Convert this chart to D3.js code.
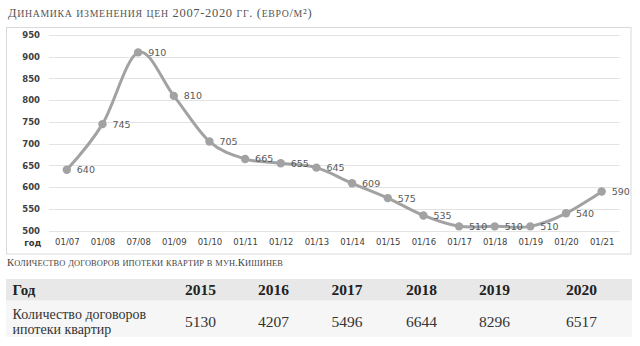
<!DOCTYPE html>
<html>
<head>
<meta charset="utf-8">
<script src="https://cdn.jsdelivr.net/npm/d3@7/dist/d3.min.js"></script>
<style>
  html, body { margin: 0; padding: 0; background: #fff; }
  svg { display: block; }
  .serif { font-family: "Liberation Serif", "DejaVu Serif", serif; }
  .ax { font-family: "DejaVu Sans", sans-serif; }
</style>
</head>
<body>
<svg id="chart" width="640" height="346"></svg>
<script>
// Price dynamics, EUR per m²
const periods = ["01/07", "01/08", "07/08", "01/09", "01/10", "01/11", "01/12", "01/13",
                 "01/14", "01/15", "01/16", "01/17", "01/18", "01/19", "01/20", "01/21"];
const prices = [640, 745, 910, 810, 705, 665, 655, 645, 609, 575, 535, 510, 510, 510, 540, 590];
const yTicks = [500, 550, 600, 650, 700, 750, 800, 850, 900, 950];

// Mortgage contracts in Chișinău
const years = ["2015", "2016", "2017", "2018", "2019", "2020"];
const contracts = [5130, 4207, 5496, 6644, 8296, 6517];

const titleText = "Динамика изменения цен 2007-2020 гг. (евро/м²)";
const tableTitle = "Количество договоров ипотеки квартир в мун.Кишинев";
const headLabel = "Год";
const rowLabel = ["Количество договоров", "ипотеки квартир"];
const axisLabel = "год";

const svg = d3.select("#chart");

// Small-caps text: lowercase letters set as smaller capitals,
// then tracked out to the given width
function smallCaps(x, yPos, text, big, small, width, color) {
  const t = svg.append("text").attr("class", "serif")
    .attr("x", x).attr("y", yPos).attr("fill", color);
  for (const ch of text) {
    const lower = ch !== ch.toUpperCase();
    t.append("tspan")
      .attr("font-size", lower ? small : big)
      .text(lower ? ch.toUpperCase() : ch);
  }
  const n = [...text].length;
  const w = t.node().getComputedTextLength();
  t.attr("letter-spacing", Math.max(0, (width - w) / n));
  return t;
}

// Title
smallCaps(8, 16.5, titleText, 12.5, 9.8, 304, "#555");

// Chart frame
svg.append("rect")
  .attr("x", 6.5).attr("y", 27.5).attr("width", 624.5).attr("height", 226.5)
  .attr("fill", "#fff").attr("stroke", "#d9d9d9").attr("stroke-width", 1);

const plot = { left: 49, right: 619.5, top: 35, bottom: 230.7 };

const x = d3.scalePoint().domain(periods).range([plot.left, plot.right]).padding(0.5);
const y = d3.scaleLinear().domain([500, 950]).range([plot.bottom, plot.top]);

// Gridlines
svg.append("g").selectAll("line").data(yTicks).join("line")
  .attr("x1", plot.left).attr("x2", plot.right)
  .attr("y1", d => Math.round(y(d)) + 0.5).attr("y2", d => Math.round(y(d)) + 0.5)
  .attr("stroke", "#e3e3e3").attr("stroke-width", 1);

// Y axis
const yAxis = svg.append("g").attr("class", "ax")
  .attr("transform", `translate(${plot.left - 6},0)`)
  .call(d3.axisLeft(y).tickValues(yTicks).tickSize(0).tickPadding(3));
yAxis.select(".domain").remove();
yAxis.selectAll("text").attr("font-size", 8.5).attr("font-weight", "bold")
  .attr("fill", "#404040").attr("font-family", "DejaVu Sans, sans-serif");

// X axis
const xAxis = svg.append("g").attr("class", "ax")
  .attr("transform", `translate(0,${plot.bottom + 6})`)
  .call(d3.axisBottom(x).tickSize(0).tickPadding(2));
xAxis.select(".domain").remove();
xAxis.selectAll("text").attr("font-size", 8.5)
  .attr("fill", "#404040").attr("font-family", "DejaVu Sans, sans-serif");

svg.append("text").attr("class", "ax")
  .attr("x", 41.5).attr("y", 245.5).attr("text-anchor", "end")
  .attr("font-size", 8.5).attr("font-weight", "bold").attr("fill", "#333")
  .text(axisLabel);

// Price line
const pts = periods.map((p, i) => ({ p, v: prices[i] }));
const line = d3.line().x(d => x(d.p)).y(d => y(d.v)).curve(d3.curveCatmullRom.alpha(0));
svg.append("path").datum(pts)
  .attr("d", line).attr("fill", "none")
  .attr("stroke", "#a2a2a2").attr("stroke-width", 3).attr("stroke-linejoin", "round");

svg.append("g").selectAll("circle").data(pts).join("circle")
  .attr("cx", d => x(d.p)).attr("cy", d => y(d.v)).attr("r", 4.2)
  .attr("fill", "#a2a2a2");

svg.append("g").selectAll("text").data(pts).join("text")
  .attr("class", "ax")
  .attr("x", d => x(d.p) + 10).attr("y", d => y(d.v) + 3.5)
  .attr("font-size", 9.5).attr("fill", "#595959")
  .text(d => d.v);

// Table
smallCaps(7, 266, tableTitle, 10.6, 8.4, 276, "#444");

const tbl = { left: 6, right: 632, headTop: 279, headBottom: 300.7, rowBottom: 336.7 };
const colX = [185, 258, 331.5, 406, 479, 566];

svg.append("rect").attr("x", tbl.left).attr("y", tbl.headTop)
  .attr("width", tbl.right - tbl.left).attr("height", tbl.headBottom - tbl.headTop)
  .attr("fill", "#e8e8e8");
svg.append("rect").attr("x", tbl.left).attr("y", tbl.headBottom)
  .attr("width", tbl.right - tbl.left).attr("height", tbl.rowBottom - tbl.headBottom)
  .attr("fill", "#f6f6f6");

svg.append("text").attr("class", "serif")
  .attr("x", 12.5).attr("y", 295).attr("font-size", 15).attr("font-weight", "bold")
  .attr("fill", "#222").text(headLabel);

svg.append("g").selectAll("text").data(years).join("text")
  .attr("class", "serif")
  .attr("x", (d, i) => colX[i]).attr("y", 295)
  .attr("font-size", 15.5).attr("font-weight", "bold").attr("fill", "#222")
  .text(d => d);

svg.append("g").selectAll("text").data(contracts).join("text")
  .attr("class", "serif")
  .attr("x", (d, i) => colX[i]).attr("y", 327)
  .attr("font-size", 15.5).attr("fill", "#333")
  .text(d => d);

svg.append("g").selectAll("text").data(rowLabel).join("text")
  .attr("class", "serif")
  .attr("x", 12.5).attr("y", (d, i) => 318.5 + i * 15)
  .attr("font-size", 14).attr("fill", "#333")
  .text(d => d);
</script>
</body>
</html>
